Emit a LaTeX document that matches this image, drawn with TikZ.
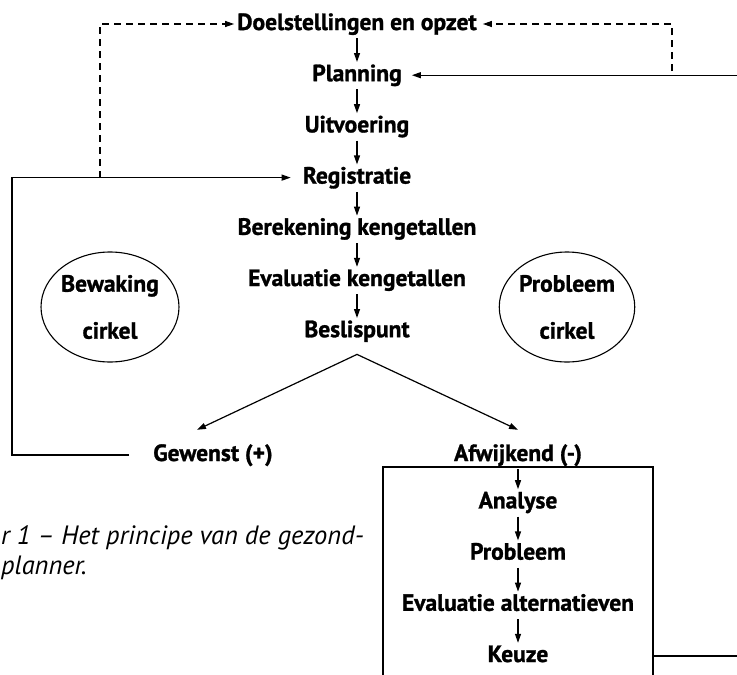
\documentclass[tikz,border=0pt]{standalone}
\usepackage{fontspec}
\setmainfont{PT Sans}
\newfontfamily\vetfont[FakeBold=1.2]{PT Sans Bold}
\usetikzlibrary{arrows.meta, positioning, shapes.geometric}

\begin{document}
\begin{tikzpicture}[
    x=1pt, y=-1pt,
    stap/.style={
        font=\fontsize{23.5}{27}\vetfont, inner sep=0pt,
        text height=17pt, text depth=5pt
    },
    cirkel/.style={
        ellipse, draw, line width=1.1pt, align=center, inner sep=0pt,
        minimum width=92pt, minimum height=110pt,
        font=\fontsize{23.5}{27}\vetfont
    },
    kader/.style={draw, line width=1.2pt, minimum width=270pt, minimum height=234pt},
    onderschrift/.style={font=\fontsize{26.5}{30}\selectfont\itshape, inner sep=0pt, anchor=west},
    pijl/.style={draw, -{Triangle[length=9pt,width=6pt]}, line width=1.2pt, shorten <=3pt, shorten >=2pt},
    stippel/.style={draw, dash pattern=on 7pt off 5pt, line width=1.1pt, -{Triangle[length=9pt,width=6pt]}},
    node distance=28.8pt
]
\useasboundingbox (0,0) rectangle (737,675);
\clip (0,0) rectangle (737,675);

% hoofdlijn
\node [stap] (doel) at (357,24) {Doelstellingen en opzet};
\node [stap, below=of doel] (planning) {Planning};
\node [stap, below=of planning] (uitvoering) {Uitvoering};
\node [stap, below=of uitvoering] (registratie) {Registratie};
\node [stap, below=of registratie] (berekening) {Berekening kengetallen};
\node [stap, below=of berekening] (evaluatie) {Evaluatie kengetallen};
\node [stap, below=of evaluatie] (beslis) {Beslispunt};

\node [cirkel] (bewaking) at (110,307) {Bewaking\\[20pt]cirkel};
\node [cirkel] (probleemc) at (567,307) {Probleem\\[20pt]cirkel};

\node [stap] (gewenst) at (213,455) {Gewenst (+)};
\node [stap] (afwijkend) at (518,455) {Afwijkend (-)};

% probleem-oplossing
\node [kader] (kader) at (518,584) {};
\node [stap, below=25pt of afwijkend] (analyse) {Analyse};
\node [stap, below=of analyse] (probleem) {Probleem};
\node [stap, below=of probleem] (alternatieven) {Evaluatie alternatieven};
\node [stap, below=of alternatieven] (keuze) {Keuze};

\node [onderschrift] (bijschrift1) at (1,538) {r 1 -- Het principe van de gezond-};
\node [onderschrift] (bijschrift2) at (1,568) {planner.};

\foreach \a/\b in {doel/planning, planning/uitvoering, uitvoering/registratie,
    registratie/berekening, berekening/evaluatie, evaluatie/beslis,
    afwijkend/analyse, analyse/probleem, probleem/alternatieven, alternatieven/keuze}
    \draw [pijl] (\a) -- (\b);

\coordinate (splits) at ([yshift=-12pt]beslis.south);
\draw [{Triangle[length=9pt,width=6pt]}-{Triangle[length=9pt,width=6pt]}, line width=1.2pt]
    ([xshift=-16pt, yshift=14pt]gewenst.north) -- (splits) -- ([yshift=14pt]afwijkend.north);

% terugkoppelingen
\coordinate (hoekL) at (12,455);
\coordinate (takL) at (100,455);
\coordinate (takR) at (672,455);
\coordinate (rechts) at (760,455);

\draw [pijl, shorten <=24pt, shorten >=12pt] (gewenst.west) -- (gewenst.west -| hoekL) |- (registratie.west);
\draw [stippel, shorten >=3pt] (registratie.west -| takL) |- (doel.west);
\draw [pijl, shorten <=0pt, shorten >=10pt] (kader.east |- keuze) -| (planning -| rechts) -- (planning.east);
\draw [stippel, shorten >=6pt] ([yshift=4pt]planning -| takR) |- (doel.east);
\end{tikzpicture}
\end{document}
